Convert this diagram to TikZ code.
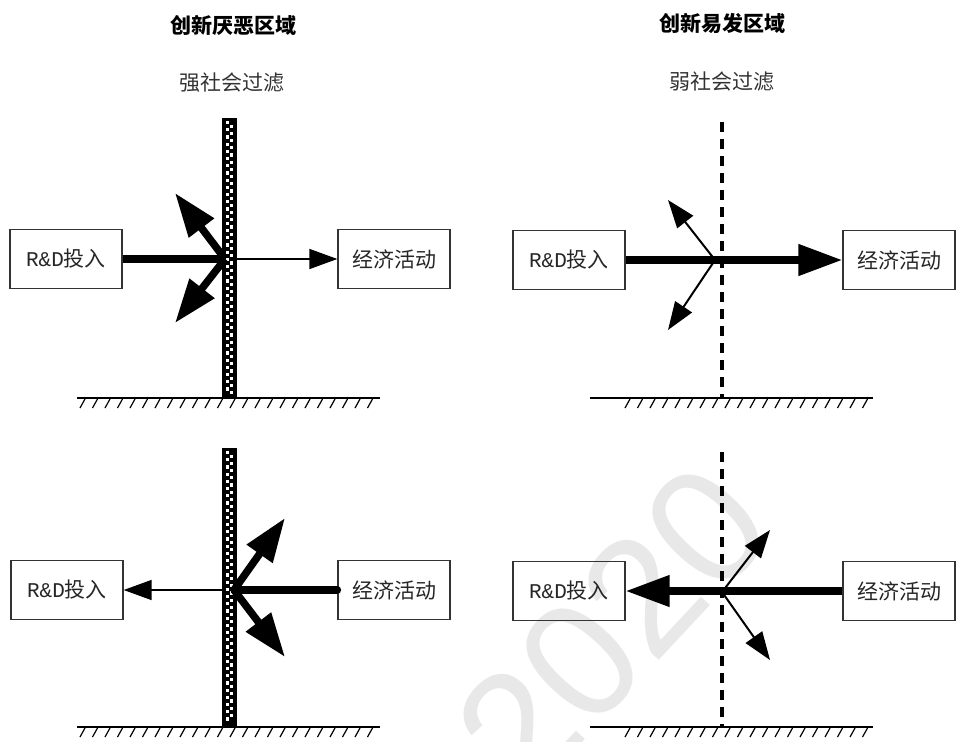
\documentclass[tikz,border=0pt]{standalone}
\usepackage{fontspec}
\usetikzlibrary{arrows.meta}
\newfontfamily\cjk{Noto Sans CJK SC}
\newfontfamily\latinmono{Liberation Mono}
\newfontfamily\markfont{Liberation Sans}

\begin{document}
\begin{tikzpicture}[x=1pt, y=-1pt,
  box/.style={draw=black!80, line width=1.3pt, minimum width=112pt, minimum height=59pt, inner sep=0pt, text=black!85, font=\cjk\fontsize{21}{25}\selectfont},
  title/.style={font=\cjk\bfseries\fontsize{21}{25}\selectfont},
  sub/.style={text=black!80, font=\cjk\fontsize{21}{25}\selectfont},
  heavy/.style={line width=7.5pt},
  light/.style={line width=1.5pt},
  medium/.style={line width=2pt},
  bigtip/.style={-{Triangle[length=44pt, width=30pt]}},
  smalltip/.style={-{Triangle[length=28pt, width=20pt]}},
  ground/.style={line width=1.6pt},
  filterline/.style={line width=4pt, dash pattern=on 10pt off 7pt}]
  \useasboundingbox (0,0) rectangle (957,741);

  \node[rotate=47, text=black!9, font=\markfont\fontsize{165}{165}\selectfont] (mark) at (612,628) {2020};

  \node[title] (t1) at (233,25) {创新厌恶区域};
  \node[title] (t2) at (722,24) {创新易发区域};
  \node[sub] (s1) at (232,83) {强社会过滤};
  \node[sub] (s2) at (722,82) {弱社会过滤};

  % walls and ground
  \foreach \top/\bot in {118/398, 448/727} {
    \fill[black] (222,\top) rectangle (237,\bot);
    \foreach \k in {0,...,76} {
      \pgfmathsetmacro\yy{\top+3+3.6*\k}
      \ifdim\yy pt<\numexpr\bot-6\relax pt
        \fill[white] ({225.8+3.8*mod(\k,2)},\yy) rectangle ++(3.4,3.2);
      \fi
    }
    \draw[ground] (77,\bot) -- (380,\bot);
    \foreach \x in {80,92.5,...,376} \draw[line width=1.2pt] (\x,\bot+10) -- (\x+5,\bot+1);
  }
  \draw[filterline] (722,122) -- (722,398);
  \draw[filterline] (722,452) -- (722,727);
  \foreach \bot in {398, 727} {
    \draw[ground] (590,\bot) -- (873,\bot);
    \foreach \x in {625,637.5,...,866} \draw[line width=1.2pt] (\x,\bot+10) -- (\x+5,\bot+1);
  }

  \node[box] (rd1) at (66,259) {{\latinmono R\&D}投入};
  \node[box] (ec1) at (394,259) {经济活动};
  \node[box] (rd2) at (569,260) {{\latinmono R\&D}投入};
  \node[box] (ec2) at (899,260) {经济活动};
  \node[box] (rd3) at (67,590) {{\latinmono R\&D}投入};
  \node[box] (ec3) at (394,590) {经济活动};
  \node[box] (rd4) at (569,591) {{\latinmono R\&D}投入};
  \node[box] (ec4) at (899,591) {经济活动};

  \coordinate (c1) at (225,259);
  \coordinate (o1) at (237,259);
  \coordinate (u1) at (175,193);
  \coordinate (d1) at (175,323);
  \draw[heavy] (rd1) -- (c1);
  \draw[heavy, bigtip] (c1) -- (u1);
  \draw[heavy, bigtip] (c1) -- (d1);
  \draw[light, smalltip] (o1) -- (ec1);

  \coordinate (c2) at (715,260);
  \coordinate (u2) at (668,200);
  \coordinate (d2) at (668,330);
  \draw[heavy, bigtip] (rd2) -- (ec2);
  \draw[medium, smalltip] (c2) -- (u2);
  \draw[medium, smalltip] (c2) -- (d2);

  \coordinate (c3) at (234,590);
  \coordinate (o3) at (222,590);
  \coordinate (u3) at (285,518);
  \coordinate (d3) at (285,657);
  \draw[heavy, line cap=round] (ec3) -- (c3);
  \draw[heavy, bigtip] (c3) -- (u3);
  \draw[heavy, bigtip] (c3) -- (d3);
  \draw[light, smalltip] (o3) -- (rd3);

  \coordinate (c4) at (722,592);
  \coordinate (u4) at (770,530);
  \coordinate (d4) at (770,660);
  \draw[heavy, bigtip] (ec4) -- (rd4);
  \draw[medium, smalltip] (c4) -- (u4);
  \draw[medium, smalltip] (c4) -- (d4);
\end{tikzpicture}
\end{document}
